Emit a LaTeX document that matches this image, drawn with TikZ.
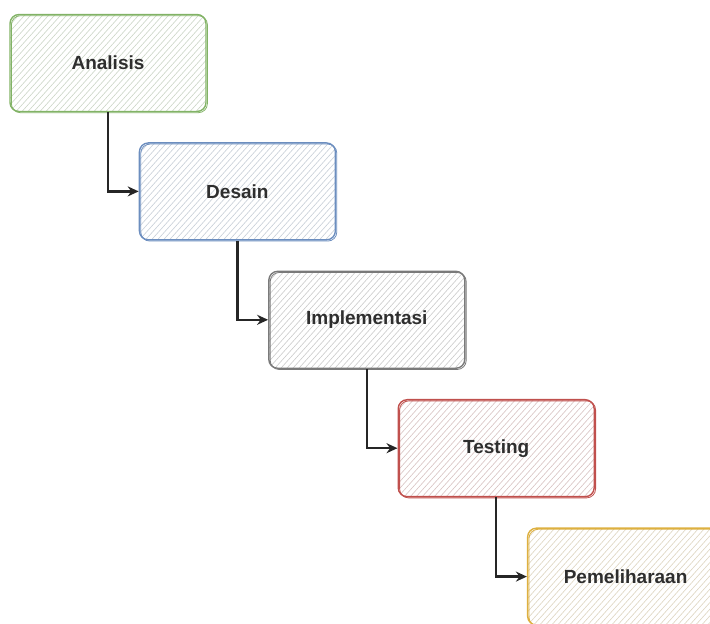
\documentclass[tikz,border=0pt]{standalone}
\usepackage{fontspec}
\setmainfont{Liberation Sans}
\usepackage{tikz}
\usetikzlibrary{arrows.meta,positioning}
\definecolor{sgreen}{HTML}{82B366}
\definecolor{sblue}{HTML}{6C8EBF}
\definecolor{sgray}{HTML}{7A7A7A}
\definecolor{sred}{HTML}{C0504D}
\definecolor{syellow}{HTML}{DDB040}
\definecolor{hatch}{HTML}{CDCDCD}
\definecolor{stext}{HTML}{2E2E2E}
\tikzset{
  box/.style={draw=#1, rounded corners=9pt, minimum width=196pt, minimum height=97pt,
              font=\fontsize{19}{22}\selectfont\bfseries, text=stext, line width=1.4pt,
              path picture={\foreach \k in {-20,...,36}
                \draw[draw=#1!25!hatch!75!white, line width=0.6pt]
                  ([xshift=\k*6pt]path picture bounding box.south west) -- ++(90pt,100pt);},
              postaction={draw, line width=0.8pt, transform canvas={shift={(1.4pt,-1.2pt)}}}},
  arr/.style={-{Stealth[length=11pt,width=10pt]}, draw=black!85, line width=2.3pt},
}

\begin{document}
\begin{tikzpicture}[x=1pt, y=1pt]
  \useasboundingbox (0,0) rectangle (710,624);
  % the five phases, each one step down and to the right
  \node[box=sgreen] (ana) at (108,561) {Analisis};
  \node[box=sblue, below right=30pt and -68pt of ana] (des) {Desain};
  \node[box=sgray, below right=30pt and -68pt of des] (imp) {Implementasi};
  \node[box=sred, below right=30pt and -68pt of imp] (tes) {Testing};
  \node[box=syellow, below right=30pt and -68pt of tes] (pem) {Pemeliharaan};

  % elbow arrows between the phases
  \draw[arr] (ana.south) |- (des.west);
  \draw[arr] (des.south) |- (imp.west);
  \draw[arr] (imp.south) |- (tes.west);
  \draw[arr] (tes.south) |- (pem.west);
\end{tikzpicture}
\end{document}
